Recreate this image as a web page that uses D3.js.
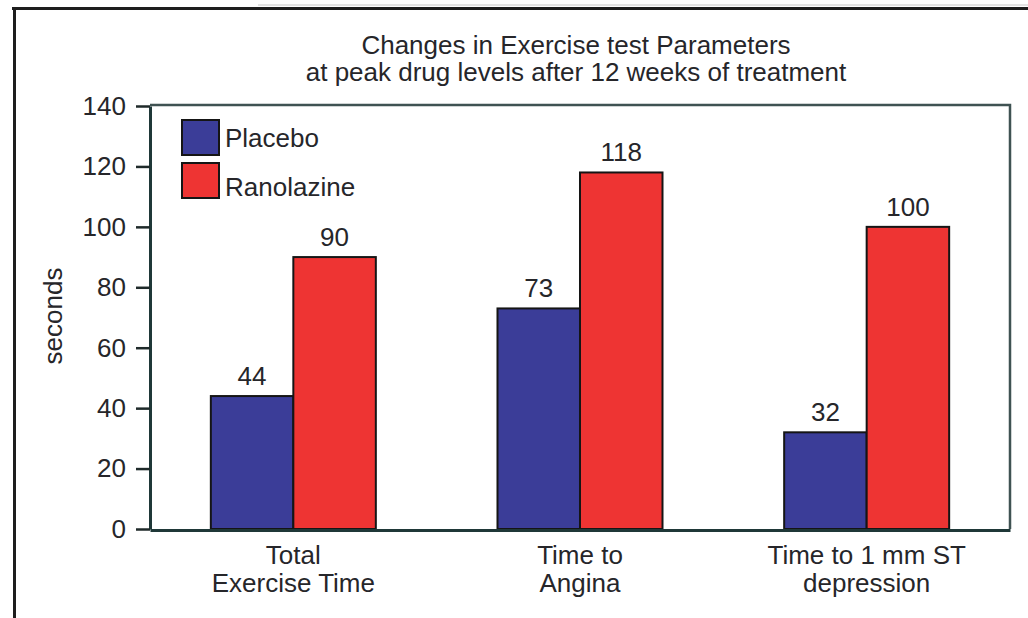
<!DOCTYPE html>
<html>
<head>
<meta charset="utf-8">
<script src="https://cdn.jsdelivr.net/npm/d3@7"></script>
<style>
  html, body { margin: 0; padding: 0; background: #fff; }
  svg { display: block; }
  text { font-family: "Liberation Sans", Arial, Helvetica, sans-serif; fill: #26262a; }
</style>
</head>
<body>
<svg id="chart" width="1028" height="618"></svg>
<script>
// Exercise test parameters, change in seconds
const categories = [
  ["Total", "Exercise Time"],
  ["Time to", "Angina"],
  ["Time to 1 mm ST", "depression"]
];
const seriesNames = ["Placebo", "Ranolazine"];
const placebo = [44, 73, 32];
const ranolazine = [90, 118, 100];
const yTicks = [0, 20, 40, 60, 80, 100, 120, 140];
const titleLines = [
  "Changes in Exercise test Parameters",
  "at peak drug levels after 12 weeks of treatment"
];

const colors = { Placebo: "#3b3d98", Ranolazine: "#ee3433" };
const values = { Placebo: placebo, Ranolazine: ranolazine };

const svg = d3.select("#chart");
const plot = { left: 150, right: 1010, top: 105, bottom: 529 };
const fontSize = 26;

// outer frame (top and left rules)
svg.append("line").attr("x1", 258).attr("x2", 1028).attr("y1", 5).attr("y2", 5)
  .attr("stroke", "#c8c8c8").attr("stroke-width", 1);
svg.append("line").attr("x1", 12).attr("x2", 1028).attr("y1", 8.5).attr("y2", 8.5)
  .attr("stroke", "#1e1e1e").attr("stroke-width", 3);
svg.append("line").attr("x1", 14.5).attr("x2", 14.5).attr("y1", 7).attr("y2", 618)
  .attr("stroke", "#1e1e1e").attr("stroke-width", 3);

const x0 = d3.scaleBand()
  .domain(d3.range(categories.length))
  .range([plot.left, plot.right])
  .padding(0);
const groupWidth = 165;
const x1 = d3.scaleBand()
  .domain(seriesNames)
  .range([(x0.bandwidth() - groupWidth) / 2, (x0.bandwidth() + groupWidth) / 2])
  .padding(0);
const y = d3.scaleLinear().domain([0, 140]).range([plot.bottom, plot.top + 1]);

// plot box: top and right edges
svg.append("path")
  .attr("d", `M${plot.left},${plot.top}H${plot.right}V${plot.bottom}`)
  .attr("fill", "none").attr("stroke", "#3f5252").attr("stroke-width", 2.5);

// bars
const groups = svg.append("g").selectAll("g")
  .data(categories)
  .join("g")
  .attr("transform", (d, i) => `translate(${x0(i)},0)`);

groups.each(function(cat, i) {
  const g = d3.select(this);
  seriesNames.forEach(name => {
    const v = values[name][i];
    g.append("rect")
      .attr("x", x1(name))
      .attr("y", y(v))
      .attr("width", x1.bandwidth())
      .attr("height", y(0) - y(v))
      .attr("fill", colors[name])
      .attr("stroke", "#151515")
      .attr("stroke-width", 2);
    g.append("text")
      .attr("x", x1(name) + x1.bandwidth() / 2)
      .attr("y", y(v) - 11)
      .attr("text-anchor", "middle")
      .attr("font-size", fontSize)
      .text(v);
  });
});

// y axis
const yAxis = d3.axisLeft(y).tickValues(yTicks).tickSize(14).tickPadding(10).tickSizeOuter(0);
const yg = svg.append("g").attr("transform", `translate(${plot.left},0)`).call(yAxis);
yg.select(".domain").attr("stroke", "#1f3838").attr("stroke-width", 3);
yg.selectAll(".tick line").attr("stroke", "#1f2a2a").attr("stroke-width", 2.5);
yg.selectAll(".tick text").attr("font-size", fontSize)
  .attr("font-family", "Liberation Sans, Arial, sans-serif").attr("fill", "#26262a");

// x axis baseline
const xAxis = d3.axisBottom(x0).tickSize(0).tickFormat("");
const xg = svg.append("g").attr("transform", `translate(0,${plot.bottom + 1})`).call(xAxis);
xg.select(".domain").attr("stroke", "#1f3838").attr("stroke-width", 3);

// category labels
categories.forEach((lines, i) => {
  const cx = x0(i) + x0.bandwidth() / 2;
  const t = svg.append("text")
    .attr("x", cx)
    .attr("y", 564)
    .attr("text-anchor", "middle")
    .attr("font-size", fontSize);
  lines.forEach((ln, k) => {
    t.append("tspan").attr("x", cx).attr("dy", k === 0 ? 0 : 28).text(ln);
  });
});

// y axis title
svg.append("text")
  .attr("transform", "translate(62,316) rotate(-90)")
  .attr("text-anchor", "middle")
  .attr("font-size", fontSize)
  .text("seconds");

// chart title
titleLines.forEach((ln, k) => {
  svg.append("text")
    .attr("x", 576)
    .attr("y", 54 + k * 27)
    .attr("text-anchor", "middle")
    .attr("font-size", fontSize)
    .text(ln);
});

// legend
const legend = svg.append("g").attr("transform", "translate(182,120)");
const legendTextY = [27, 76];
seriesNames.forEach((name, k) => {
  legend.append("rect")
    .attr("x", 0).attr("y", k * 43)
    .attr("width", 37).attr("height", 35)
    .attr("fill", colors[name])
    .attr("stroke", "#151515").attr("stroke-width", 2);
  legend.append("text")
    .attr("x", 43).attr("y", legendTextY[k])
    .attr("font-size", fontSize)
    .text(name);
});
</script>
</body>
</html>
